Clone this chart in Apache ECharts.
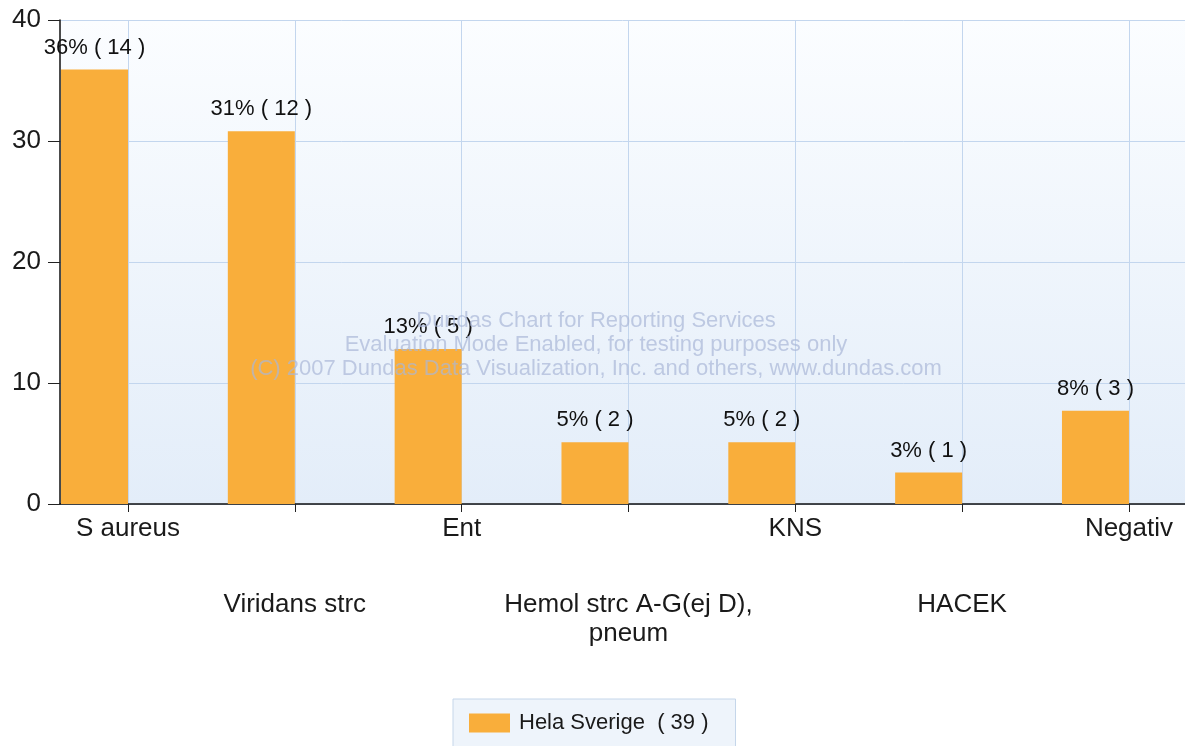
<!DOCTYPE html>
<html><head><meta charset="utf-8">
<script src="https://cdn.jsdelivr.net/npm/echarts@6/dist/echarts.min.js"></script>
<style>html,body{margin:0;padding:0;background:#fff}#c{width:1185px;height:746px}</style>
</head><body><div id="c"></div>
<script>
const categories = ['S aureus', 'Viridans strc', 'Ent', 'Hemol strc A-G(ej D),\npneum', 'KNS', 'HACEK', 'Negativ'];
const percentValues = [35.9, 30.8, 12.8, 5.1, 5.1, 2.6, 7.7];
const percentLabels = [36, 31, 13, 5, 5, 3, 8];
const counts = [14, 12, 5, 2, 2, 1, 3];
const seriesName = 'Hela Sverige  ( 39 )';
const yTicks = [0, 10, 20, 30, 40];
const watermark = ['Dundas Chart for Reporting Services', 'Evaluation Mode Enabled, for testing purposes only', '(C) 2007 Dundas Data Visualization, Inc. and others, www.dundas.com'];

const FONT = '"Liberation Sans", Arial, sans-serif';
const chart = echarts.init(document.getElementById('c'), null, {renderer: 'canvas'});
const gridTop = 20, gridBottom = 242;
chart.setOption({
  animation: false,
  textStyle: {fontFamily: FONT},
  grid: [
    {left: 44.58, width: 1167.8, top: gridTop, bottom: gridBottom, containLabel: false, outerBoundsMode: 'none'},
    {left: 60, right: 0, top: gridTop, bottom: gridBottom, containLabel: false, outerBoundsMode: 'none',
     show: true, borderWidth: 0,
     backgroundColor: {type: 'linear', x: 0, y: 0, x2: 0, y2: 1,
       colorStops: [{offset: 0, color: '#fbfdff'}, {offset: 1, color: '#e3edf9'}]}}
  ],
  xAxis: [
    {type: 'category', gridIndex: 0, data: categories, boundaryGap: true,
     axisLine: {show: false},
     axisTick: {show: true, alignWithLabel: true, length: 8, lineStyle: {color: '#222', width: 1}},
     splitLine: {show: true, alignWithLabel: true, lineStyle: {color: '#c3d6ee', width: 1}},
     axisLabel: {interval: 0, hideOverlap: false, margin: 10, color: '#1a1a1a', fontFamily: FONT,
       formatter: function (v, i) {
         const lines = v.split('\n').map(s => '{t|' + s + '}').join('\n');
         return i % 2 === 1 ? '{gap| }\n' + lines : lines;
       },
       rich: {t: {fontSize: 26, lineHeight: 29, color: '#1a1a1a', fontFamily: FONT}, gap: {fontSize: 10, lineHeight: 76.5}}}
    },
    {type: 'value', gridIndex: 1, min: 0, max: 1, axisLabel: {show: false}, axisTick: {show: false},
     splitLine: {show: false}, axisLine: {show: true, lineStyle: {color: '#111', width: 1.5}}}
  ],
  yAxis: [
    {type: 'value', gridIndex: 0, min: 0, max: 40, interval: 10, show: false, splitLine: {show: false}},
    {type: 'value', gridIndex: 1, min: 0, max: 40, interval: 10,
     axisLine: {show: true, lineStyle: {color: '#111', width: 1.5}},
     axisTick: {show: true, length: 12, lineStyle: {color: '#222'}},
     axisLabel: {fontSize: 26, color: '#1a1a1a', margin: 19, fontFamily: FONT,
       formatter: v => yTicks.includes(v) ? String(v) : ''},
     splitLine: {show: true, lineStyle: {color: '#c3d6ee', width: 1}}}
  ],
  legend: {
    data: [seriesName], left: 453, top: 699, orient: 'horizontal',
    backgroundColor: '#eef4fb', borderColor: '#c5d6ea', borderWidth: 1,
    padding: [13, 27, 14, 16], itemWidth: 41, itemHeight: 19, itemGap: 10,
    icon: 'rect', textStyle: {fontSize: 22, color: '#1a1a1a', fontFamily: FONT, padding: [0, 0, 0, 4]}
  },
  graphic: watermark.map((t, i) => ({
    type: 'text', x: 596, y: 321 + i * 24, z: 100, silent: true,
    style: {text: t, fontSize: 22, fill: 'rgba(170,182,215,0.7)', fontFamily: FONT, textAlign: 'center', textVerticalAlign: 'middle'}
  })),
  series: [
    {type: 'bar', name: seriesName, xAxisIndex: 0, yAxisIndex: 0, data: percentValues,
     barWidth: 67, barGap: '0%', z: 3,
     itemStyle: {color: '#f9ae3b'},
     label: {show: true, position: 'top', distance: 11, fontSize: 22, color: '#111', fontFamily: FONT,
       formatter: p => percentLabels[p.dataIndex] + '% ( ' + counts[p.dataIndex] + ' )'}},
    {type: 'bar', name: 'spacer', xAxisIndex: 0, yAxisIndex: 0, data: categories.map(() => '-'),
     barWidth: 67, barGap: '0%', itemStyle: {color: 'transparent'}}
  ]
});
</script></body></html>
